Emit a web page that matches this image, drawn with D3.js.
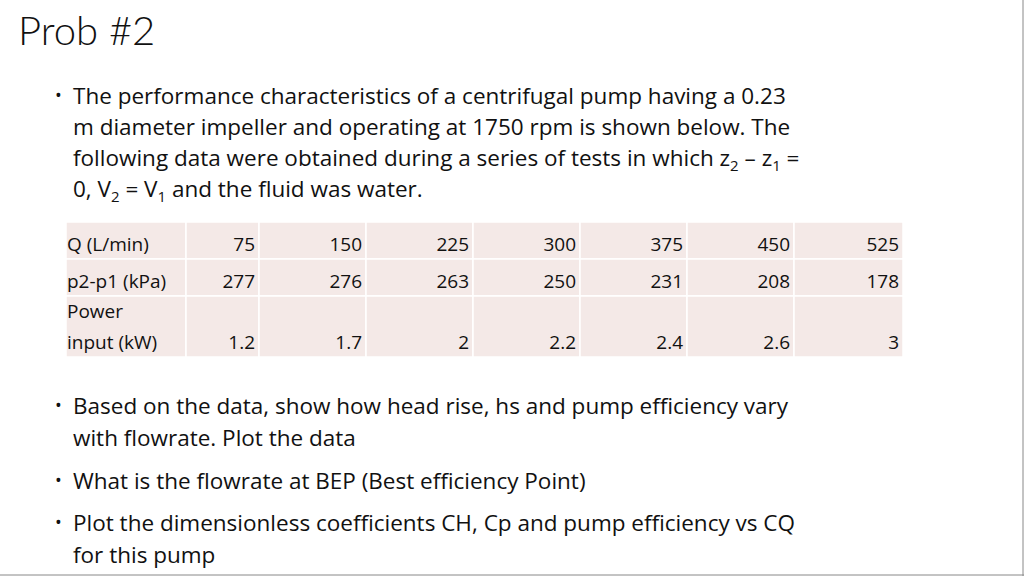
<!DOCTYPE html>
<html><head><meta charset="utf-8">
<script src="https://cdn.jsdelivr.net/npm/d3@7"></script>
<style>body{margin:0;background:#fff}svg{display:block;font-family:"Open Sans",Lato,sans-serif;fill:#111}</style>
</head><body><svg id="slide"></svg>
<script>
const rowLabels = [["Q (L/min)"], ["p2-p1 (kPa)"], ["Power", "input (kW)"]];
const flow = ["75", "150", "225", "300", "375", "450", "525"];
const dp = ["277", "276", "263", "250", "231", "208", "178"];
const power = ["1.2", "1.7", "2", "2.2", "2.4", "2.6", "3"];

let width = 1024, height = 576;
let svg = d3.select("#slide").attr("width", width).attr("height", height);

svg.append("text").attr("x", 18).attr("y", 45).style("font-family", "Lato").style("font-size", "40px").style("font-weight", 300).text("Prob #2");

// bullet lines: plain strings or {sub} segments
let fs = 22.5;
function line(y, segs, bullet) {
    if (bullet) svg.append("text").attr("x", 55).attr("y", y - 2).style("font-size", "18px").text("•");
    let t = svg.append("text").attr("x", 73).attr("y", y).style("font-size", fs + "px");
    let shift = 0;
    segs.forEach(s => {
        if (typeof s === "string") { t.append("tspan").attr("dy", -shift).text(s); shift = 0; }
        else { t.append("tspan").attr("dy", 5 - shift).style("font-size", "15px").text(s.sub); shift = 5; }
    });
}
line(104, ["The performance characteristics of a centrifugal pump having a 0.23"], true);
line(135, ["m diameter impeller and operating at 1750 rpm is shown below. The"]);
line(166, ["following data were obtained during a series of tests in which z", {sub: "2"}, " – z", {sub: "1"}, " ="]);
line(197, ["0, V", {sub: "2"}, " = V", {sub: "1"}, " and the fluid was water."]);
line(414, ["Based on the data, show how head rise, hs and pump efficiency vary"], true);
line(446, ["with flowrate. Plot the data"]);
line(489, ["What is the flowrate at BEP (Best efficiency Point)"], true);
line(531, ["Plot the dimensionless coefficients CH, Cp and pump efficiency vs CQ"], true);
line(563, ["for this pump"]);

// table
let colEdges = [66, 186, 259, 366, 473, 580, 687, 794, 903];
let rowEdges = [222, 259, 296, 357];
let rows = [flow, dp, power];
let tg = svg.append("g");
rows.forEach((r, i) => {
    for (let c = 0; c < 8; c++) {
        tg.append("rect").attr("x", colEdges[c]).attr("y", rowEdges[i])
            .attr("width", colEdges[c + 1] - colEdges[c]).attr("height", rowEdges[i + 1] - rowEdges[i])
            .attr("fill", "#f4e9e7").attr("stroke", "#fff").attr("stroke-width", 1.5);
    }
    let yb = rowEdges[i + 1] - 8;
    rowLabels[i].forEach((l, k, a) => {
        tg.append("text").attr("x", colEdges[0] + 1).attr("y", yb - (a.length - 1 - k) * 31)
            .style("font-size", "19px").text(l);
    });
    r.forEach((v, c) => {
        tg.append("text").attr("x", colEdges[c + 2] - 4).attr("y", yb)
            .attr("text-anchor", "end").style("font-size", "19px").text(v);
    });
});

// slide frame
svg.append("line").attr("x1", 0).attr("x2", width).attr("y1", height - 1).attr("y2", height - 1).attr("stroke", "#888");
svg.append("line").attr("x1", width - 1).attr("x2", width - 1).attr("y1", 0).attr("y2", height).attr("stroke", "#888");
</script></body></html>
